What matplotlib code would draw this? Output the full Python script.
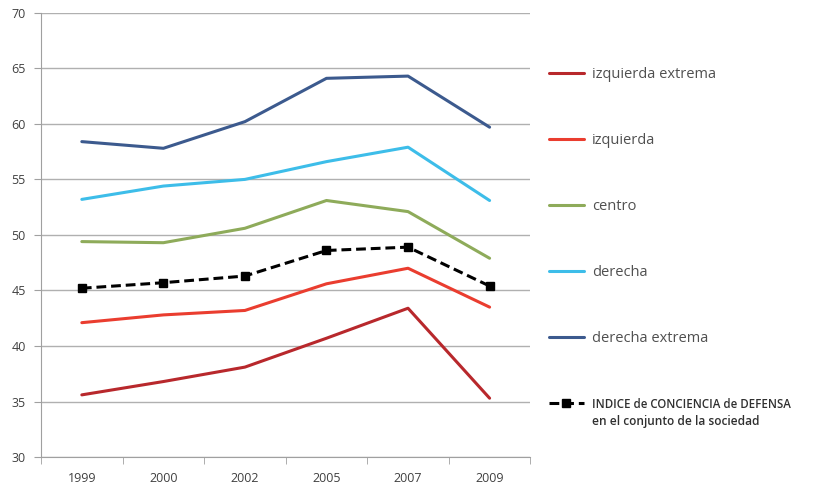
import matplotlib.pyplot as plt

plt.rcParams['font.family'] = ['Open Sans', 'DejaVu Sans']

years = ['1999', '2000', '2002', '2005', '2007', '2009']
izq_extrema = [35.6, 36.8, 38.1, 40.7, 43.4, 35.3]
izquierda = [42.1, 42.8, 43.2, 45.6, 47.0, 43.5]
centro = [49.4, 49.3, 50.6, 53.1, 52.1, 47.9]
derecha = [53.2, 54.4, 55.0, 56.6, 57.9, 53.1]
der_extrema = [58.4, 57.8, 60.2, 64.1, 64.3, 59.7]
indice = [45.2, 45.7, 46.3, 48.6, 48.9, 45.4]

series = [
    ('izquierda extrema', izq_extrema, '#b8282c'),
    ('izquierda', izquierda, '#ea3d2f'),
    ('centro', centro, '#8eab5a'),
    ('derecha', derecha, '#3dbde9'),
    ('derecha extrema', der_extrema, '#3c5a8e'),
]
indice_label = ['INDICE de CONCIENCIA de DEFENSA', 'en el conjunto de la sociedad']

fig = plt.figure(figsize=(8.21, 4.92), dpi=100)
ax = fig.add_axes([0.05, 0.071, 0.596, 0.903])

x = list(range(len(years)))
handles = []
for name, vals, col in series:
    ln, = ax.plot(x, vals, color=col, lw=2.2, solid_capstyle='round', zorder=3, label=name)
    handles.append(ln)
ln, = ax.plot(x, indice, color='black', lw=2.2, ls=(0, (3.2, 1.6)),
              marker='s', ms=6, zorder=4, label=indice_label[0])
handles.append(ln)

ax.set_ylim(30, 70)
ax.set_xlim(-0.5, len(years) - 0.5)
ax.set_yticks(range(30, 71, 5))
ax.set_xticks(x)
ax.set_xticklabels(years)
ax.set_xticks([i - 0.5 for i in range(len(years) + 1)], minor=True)
ax.tick_params(axis='x', which='major', length=0, pad=11, labelsize=9, labelcolor='#404040')
ax.tick_params(axis='x', which='minor', length=5, color='#a0a0a0', direction='out')
ax.tick_params(axis='y', length=5, color='#a0a0a0', labelsize=9, labelcolor='#404040', pad=6)
ax.grid(axis='y', color='#b0b0b0', lw=1)
ax.set_axisbelow(True)
for s in ['top', 'right']:
    ax.spines[s].set_visible(False)
for s in ['left', 'bottom']:
    ax.spines[s].set_color('#a0a0a0')

leg = fig.legend(handles=handles, loc='upper left', bbox_to_anchor=(0.6526, 0.89),
                 frameon=False, labelspacing=3.5, handlelength=2.4, handletextpad=0.55,
                 fontsize=10.5, labelcolor='#505050')
last = leg.get_texts()[-1]
last.set_color('#303030')
last.set_fontweight('semibold')
last.set_fontsize(8.3)

fig.canvas.draw()
ax.annotate(indice_label[1], xy=(0, 0), xycoords=last, xytext=(0, -3),
            textcoords='offset points', va='top', ha='left',
            fontsize=8.6, fontweight='semibold', color='#303030')

fig.savefig('out.png', dpi=100)
